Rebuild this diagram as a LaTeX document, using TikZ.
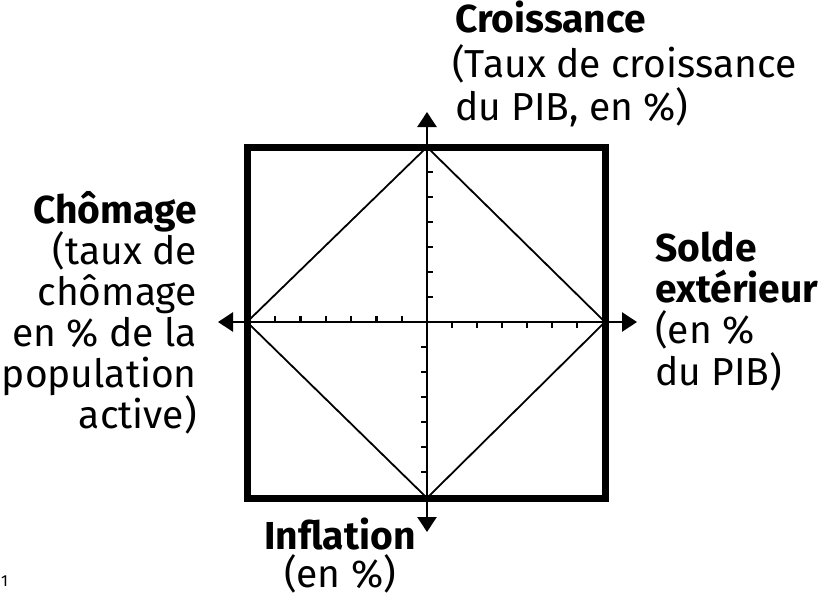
\documentclass[tikz,border=0pt]{standalone}
\usepackage{fontspec}
\setmainfont{Fira Sans}
\usetikzlibrary{arrows.meta,calc}
\tikzset{
  lbl/.style={inner sep=0pt, font=\fontsize{39}{43}\selectfont},
  axisline/.style={line width=2.6pt, -{Triangle[width=19pt,length=15pt]}},
  frame/.style={line width=7pt},
  diam/.style={line width=1.8pt, line join=miter},
  tick/.style={line width=2.2pt}
}
\begin{document}
\begin{tikzpicture}[x=1pt,y=-1pt]
\useasboundingbox (0,0) rectangle (831,598);
% coordinates
\coordinate (C) at (427,322);
\coordinate (L) at (247,322);
\coordinate (R) at (605,322);
\coordinate (T) at (427,147);
\coordinate (B) at (427,498);
\coordinate (Ltip) at (218,322);
\coordinate (Rtip) at (637,322);
\coordinate (Ttip) at (427,112);
\coordinate (Btip) at (427,532);
% diamond
\draw[diam] (L) -- (T) -- (R) -- (B) -- cycle;
% axes
\draw[axisline] (C) -- (Ltip);
\draw[axisline] (C) -- (Rtip);
\draw[axisline] (C) -- (Ttip);
\draw[axisline] (C) -- (Btip);
% ticks
\foreach \i in {1,...,6} {
  \draw[tick] ($(C)+(0,-25*\i)$) -- ++(6,0);
  \draw[tick] ($(C)+(0,25*\i)$) -- ++(-6,0);
  \draw[tick] ($(C)+(-25.3*\i,0)$) -- ++(0,-6);
  \draw[tick] ($(C)+(25*\i,0)$) -- ++(0,6);
}
% frame
\draw[frame] (247,147) rectangle (605,498);
% top text
\node[lbl, anchor=base west] (t1) at (455,32) {\bfseries Croissance};
\node[lbl, anchor=base west] (t2) at (452,77) {(Taux de croissance};
\node[lbl, anchor=base west] (t3) at (455,120) {du PIB, en \%)};
% left text
\node[lbl, anchor=base east] (l1) at (197,223) {\bfseries Chômage};
\node[lbl, anchor=base east] (l2) at (197,264) {(taux de};
\node[lbl, anchor=base east] (l3) at (197,305) {chômage};
\node[lbl, anchor=base east] (l4) at (197,346) {en \% de la};
\node[lbl, anchor=base east] (l5) at (197,387) {population};
\node[lbl, anchor=base east] (l6) at (197,428) {active)};
% right text
\node[lbl, anchor=base west] (r1) at (655,261) {\bfseries Solde};
\node[lbl, anchor=base west] (r2) at (655,302) {\bfseries extérieur};
\node[lbl, anchor=base west] (r3) at (655,343) {(en \%};
\node[lbl, anchor=base west] (r4) at (655,385) {du PIB)};
% bottom text
\node[lbl, anchor=base] (b1) at (340,549) {\bfseries Inflation};
\node[lbl, anchor=base] (b2) at (340,587) {(en \%)};
% page number
\node[inner sep=0pt, anchor=base west, font=\fontsize{16}{18}\selectfont] (pg) at (1,586) {1};
\end{tikzpicture}
\end{document}
